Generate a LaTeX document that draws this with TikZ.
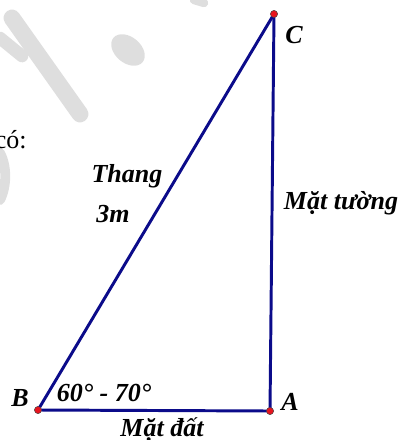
\documentclass[tikz,border=0pt]{standalone}
\usepackage{fontspec}
\setmainfont{Liberation Serif}
\usepackage{tikz}
\usetikzlibrary{positioning, calc}
\definecolor{myside}{HTML}{0B0B8A}
\definecolor{mydot}{HTML}{E8141E}
\definecolor{mymark}{HTML}{DEDEDE}

\begin{document}
\begin{tikzpicture}[x=0.25mm, y=-0.25mm, font=\fontsize{18.5}{21}\selectfont\bfseries\itshape]
            \tikzset{
                side/.style={draw=myside, line width=2.1pt, line cap=round},
                pointdot/.style={circle, fill=mydot, draw=black!70, line width=0.3pt, inner sep=0pt, minimum size=5pt},
                wmark/.style={draw=mymark, line width=12pt, line cap=round},
                lbl/.style={inner sep=1pt}
            }
            \useasboundingbox (0,0) rectangle (397,440);
            % watermark
            \draw[wmark] (12,18) -- (80,114);
            \draw[wmark, line width=9pt] (0,38) -- (22,56);
            \draw[wmark, line width=6pt] (194,0) -- (204,3);
            \fill[mymark, rotate around={-40:(128,50)}] (128,50) ellipse (19 and 13);
            \draw[wmark, line width=7pt] (0,153) .. controls (7,166) and (7,186) .. (0,200);
            \node[anchor=base east, inner sep=0pt, font=\fontsize{18.5}{21}\selectfont] (co) at (27,149) {có:};
            % points
            \node[pointdot] (B) at (38,410) {};
            \node[pointdot] (A) at (270,411) {};
            \node[pointdot] (C) at (274,14) {};
            \draw[side] (B.center) -- (A.center);
            \draw[side] (A.center) -- (C.center);
            \draw[side] (C.center) -- (B.center);
            \node[pointdot] at (B) {};
            \node[pointdot] at (A) {};
            \node[pointdot] at (C) {};
            % labels
            \node[lbl] (lC) at (294,35) {C};
            \node[lbl] (lB) at (20,398) {B};
            \node[lbl] (lA) at (290,402) {A};
            \node[lbl] (wall) at (341,203) {Mặt tường};
            \node[lbl] (ladder) at (127,176) {Thang};
            \node[lbl, below=10pt of ladder.south, xshift=-10pt] (len) {3m};
            \node[lbl] (angle) at (104,393) {60° - 70°};
            \node[lbl] (ground) at (162,430) {Mặt đất};
        \end{tikzpicture}
\end{document}
